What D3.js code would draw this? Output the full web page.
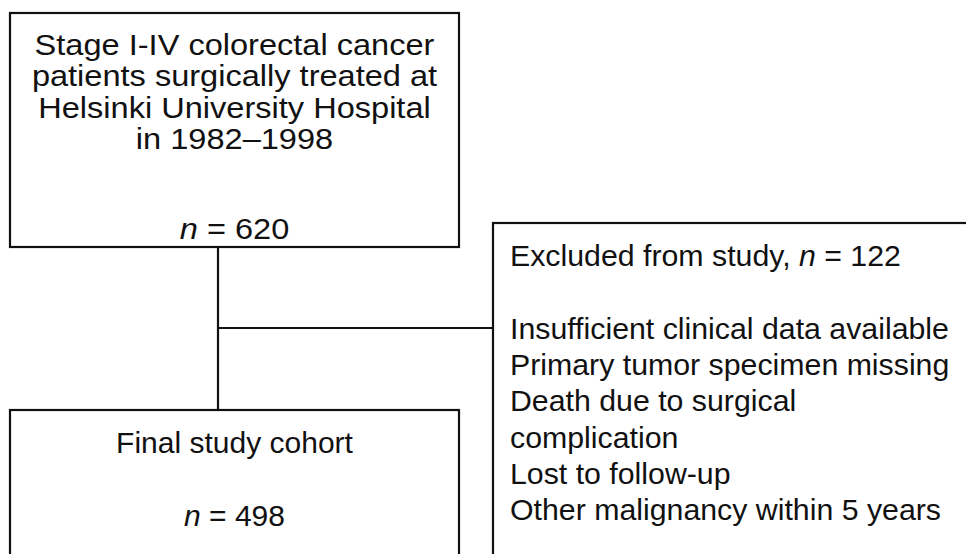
<!DOCTYPE html>
<html>
<head>
<meta charset="utf-8">
<script src="https://cdn.jsdelivr.net/npm/d3@7"></script>
<style>
  body { margin: 0; background: #fff; }
  svg { display: block; }
  text { font-family: "Liberation Sans", Arial, sans-serif; fill: #111; }
</style>
</head>
<body>
<svg id="chart" width="966" height="554"></svg>
<script>
// Flowchart content
const sourceLines = ["Stage I-IV colorectal cancer", "patients surgically treated at", "Helsinki University Hospital", "in 1982\u20131998"];
const sourceN = 620;
const finalLines = ["Final study cohort"];
const finalN = 498;
const excludedN = 122;
const exclusionReasons = ["Insufficient clinical data available", "Primary tumor specimen missing", "Death due to surgical", "complication", "Lost to follow-up", "Other malignancy within 5 years"];

const svg = d3.select("#chart");
const fontSize = 30;
const stroke = "#111";

function box(x, y, w, h) {
    svg.append("rect")
        .attr("x", x).attr("y", y)
        .attr("width", w).attr("height", h)
        .attr("fill", "none")
        .attr("stroke", stroke)
        .attr("stroke-width", 2.2);
}

function nLabel(g, x, y, n, anchor, prefix) {
    const t = g.append("text")
        .attr("x", x).attr("y", y)
        .attr("text-anchor", anchor)
        .attr("font-size", fontSize);
    if (prefix) t.append("tspan").text(prefix);
    t.append("tspan").attr("font-style", "italic").text("n");
    t.append("tspan").text(" = " + n);
}

// Top box (its text is set a little wider in the source)
box(10, 13, 449, 234);
const topBox = svg.append("g").attr("transform", "translate(234.5,0) scale(1.085,1)");
topBox.selectAll("text.line")
    .data(sourceLines)
    .join("text")
    .attr("class", "line")
    .attr("x", 0)
    .attr("y", (d, i) => 55 + i * 31.3)
    .attr("text-anchor", "middle")
    .attr("font-size", fontSize)
    .text(d => d);
nLabel(topBox, 0, 239, sourceN, "middle");

// Bottom box (runs off the bottom)
box(10, 410, 449, 170);
const bottomBox = svg.append("g");
bottomBox.selectAll("text.line")
    .data(finalLines)
    .join("text")
    .attr("class", "line")
    .attr("x", 234.5)
    .attr("y", 453)
    .attr("text-anchor", "middle")
    .attr("font-size", fontSize)
    .text(d => d);
nLabel(bottomBox, 234.5, 526, finalN, "middle");

// Exclusion box (runs off the right and bottom)
box(493, 223, 500, 360);
const rightBox = svg.append("g").attr("transform", "translate(510,0) scale(1.01,1)");
nLabel(rightBox, 0, 266, excludedN, "start", "Excluded from study, ");
rightBox.selectAll("text.reason")
    .data(exclusionReasons)
    .join("text")
    .attr("class", "reason")
    .attr("x", 0)
    .attr("y", (d, i) => 339 + i * 36.2)
    .attr("font-size", fontSize)
    .text(d => d);

// Connectors
svg.append("line")
    .attr("x1", 218).attr("y1", 247).attr("x2", 218).attr("y2", 410)
    .attr("stroke", stroke).attr("stroke-width", 2.2);
svg.append("line")
    .attr("x1", 218).attr("y1", 328).attr("x2", 493).attr("y2", 328)
    .attr("stroke", stroke).attr("stroke-width", 2.2);
</script>
</body>
</html>
